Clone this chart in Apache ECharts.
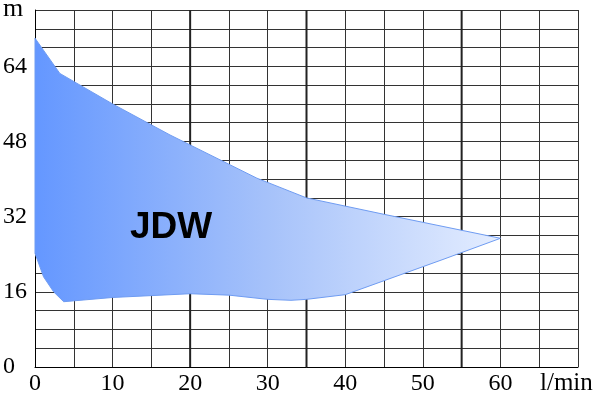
<!DOCTYPE html>
<html>
<head>
<meta charset="utf-8">
<script src="https://cdn.jsdelivr.net/npm/echarts@6/dist/echarts.min.js"></script>
<style>html,body{margin:0;padding:0;background:#fff}#c{width:600px;height:397px}</style>
</head>
<body>
<div id="c"></div>
<script>
// Upper boundary (max head) of the JDW working range
const upperX = [0, 3.2, 10, 17.4, 28.6, 35, 45, 60];
const upperY = [70, 62.5, 56, 49.4, 40.2, 36, 32.5, 27.4];
// Lower boundary, traced back from right to left
const lowerX = [60, 52.6, 40, 35, 33, 30, 25, 20, 10, 3.7, 2.4, 1.1, 0];
const lowerY = [27.4, 22.9, 15.4, 14.4, 14.2, 14.4, 15.3, 15.6, 14.8, 13.9, 16, 19.2, 24.2];
const xLabels = [0, 10, 20, 30, 40, 50, 60];
const yLabels = [0, 16, 32, 48, 64];
const boldX = [20, 35, 55];
const seriesName = 'JDW';
const yMin = 0, yMax = 76;

const outline = upperX.map((x, i) => [x, upperY[i]])
  .concat(lowerX.map((x, i) => [x, lowerY[i]]));

const chart = echarts.init(document.getElementById('c'), null, {renderer: 'canvas'});
const serif = 'Liberation Serif';
chart.setOption({
  animation: false,
  backgroundColor: '#fff',
  grid: {left: 35, right: 22, top: 10, bottom: 30, containLabel: false, outerBoundsMode: 'none'},
  xAxis: {
    type: 'value', min: 0, max: 70, interval: 5,
    name: 'l/min', nameLocation: 'end', nameGap: -38,
    nameTextStyle: {fontFamily: serif, fontSize: 25, color: '#000', align: 'left', verticalAlign: 'top', padding: [4, 0, 0, 0]},
    axisLine: {show: true, lineStyle: {color: '#000', width: 1}},
    axisTick: {show: false},
    axisLabel: {
      fontFamily: serif, fontSize: 24, color: '#000', margin: 5,
      formatter: v => xLabels.indexOf(v) >= 0 ? String(v) : ''
    },
    splitLine: {show: true, lineStyle: {color: '#333', width: 1}}
  },
  yAxis: {
    type: 'value', min: yMin, max: yMax, interval: 4,
    name: 'm', nameLocation: 'end', nameGap: -12,
    nameTextStyle: {fontFamily: serif, fontSize: 26, color: '#000', align: 'left', verticalAlign: 'bottom', padding: [0, 0, 0, -32]},
    axisLine: {show: true, lineStyle: {color: '#000', width: 1}},
    axisTick: {show: false},
    axisLabel: {
      fontFamily: serif, fontSize: 24, color: '#000', margin: 32, align: 'left',
      formatter: v => yLabels.indexOf(v) >= 0 ? String(v) : ''
    },
    splitLine: {show: true, lineStyle: {color: '#333', width: 1}}
  },
  series: [
    {
      type: 'custom', name: seriesName, z: 3, silent: true,
      data: [0],
      renderItem: function (params, api) {
        const lines = boldX.map(x => {
          const p0 = api.coord([x, yMin]);
          const p1 = api.coord([x, yMax]);
          return {
            type: 'line', z2: 1,
            shape: {x1: p0[0], y1: p0[1], x2: p1[0], y2: p1[1]},
            style: {stroke: '#222', lineWidth: 2}
          };
        });
        const pts = outline.map(p => api.coord(p));
        const poly = {
          type: 'polygon', z2: 50,
          shape: {points: pts},
          style: {
            fill: new echarts.graphic.LinearGradient(0, 0, 1, 0, [
              {offset: 0, color: '#6497FF'},
              {offset: 0.5, color: '#A6C2FA'},
              {offset: 1, color: '#E4EDFF'}
            ]),
            stroke: '#6F9CF2', lineWidth: 1
          }
        };
        return {type: 'group', children: lines.concat([poly])};
      }
    }
  ],
  graphic: [{
    type: 'text', left: 130, top: 209, z: 100,
    style: {text: seriesName, font: 'bold 37px Liberation Sans', fill: '#000'}
  }]
});
</script>
</body>
</html>
